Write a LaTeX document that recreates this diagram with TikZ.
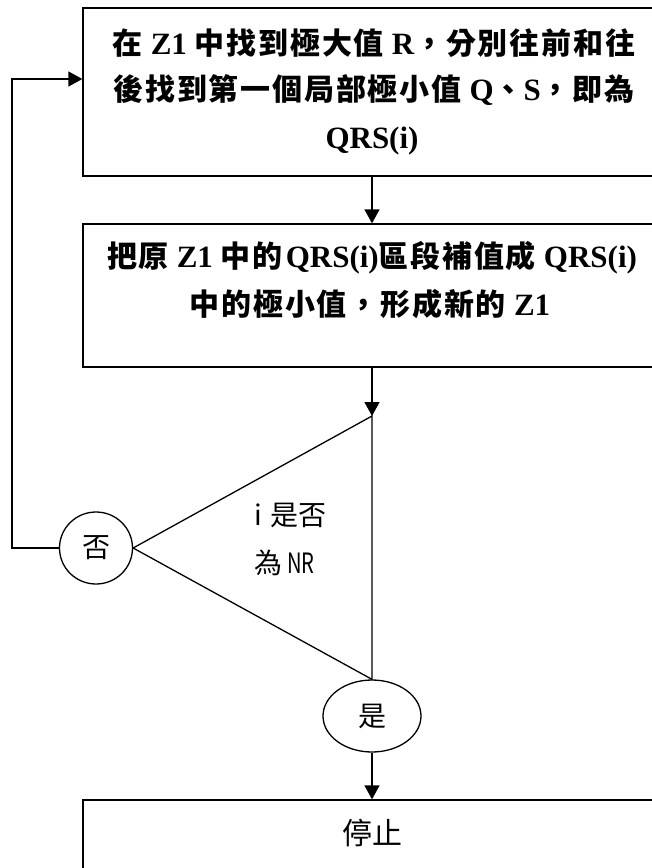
\documentclass[tikz,border=0pt]{standalone}
\usepackage{fontspec}
\setmainfont{Liberation Serif}
\newfontfamily\cjk{Noto Sans CJK TC}
\newfontfamily\cjksp{Noto Sans CJK TC}[LetterSpace=6]
\usetikzlibrary{arrows.meta,shapes.geometric}
\newcommand\Cb[1]{{\cjksp\bfseries\fontsize{30}{30}\selectfont #1}}
\newcommand\Lb[1]{{\rmfamily\bfseries\fontsize{31}{31}\selectfont #1}}
\newcommand\Cr[1]{{\cjk\fontsize{28}{28}\selectfont #1}}
\newcommand\mygap{\hspace{8pt}}
\begin{document}
\begin{tikzpicture}[x=1pt,y=-1pt,
  line/.style={draw=black,line width=1.3pt},
  box/.style={line,rectangle,inner sep=0pt,minimum width=578pt},
  arr/.style={line,-{Triangle[length=14pt,width=15pt]}},
  txt/.style={inner sep=0pt,anchor=center},
  bub/.style={line,ellipse,inner sep=0pt}]
\useasboundingbox (0,0) rectangle (652,868);
\clip (0,0) rectangle (652,868);
\fill[white] (0,0) rectangle (652,868);
% boxes
\node[box,minimum height=168pt] (b1) at (372,92) {};
\node[box,minimum height=143pt] (b2) at (372,295.5) {};
\node[box,minimum height=100pt] (stop) at (372,850) {};
% box 1 text
\node[txt] (t1a) at (374,43) {\Cb{在}\mygap\Lb{Z1}\mygap\Cb{中找到極大值}\mygap\Lb{R}\Cb{，分別往前和往}};
\node[txt] (t1b) at (374,90) {\Cb{後找到第一個局部極小值}\mygap\Lb{Q}\Cb{、}\Lb{S}\Cb{，即為}};
\node[txt] (t1c) at (372,141) {\Lb{QRS(i)}};
% box 2 text
\node[txt] (t2a) at (372,258) {\Cb{把原}\mygap\Lb{Z1}\mygap\Cb{中的}\hspace{3pt}\Lb{QRS(i)}\Cb{區段補值成}\mygap\Lb{QRS(i)}};
\node[txt] (t2b) at (370,304) {\Cb{中的極小值，形成新的}\mygap\Lb{Z1}};
% stop text
\node[txt] (t3) at (372,833) {{\cjk\fontsize{30}{30}\selectfont 停止}};
% decision
\node[bub,minimum width=73pt,minimum height=72pt] (no) at (96,548) {\Cr{否}};
\node[bub,minimum width=98pt,minimum height=72pt] (yes) at (372,716) {\Cr{是}};
\coordinate (ta) at (372,416);
\draw[line] (ta) -- (no.east) -- (yes.north) -- cycle;
\node[txt,anchor=west] (q1) at (254,515) {\Cr{i\hspace{9pt}是否}};
\node[txt,anchor=west] (q2) at (254,563) {\Cr{為\hspace{5pt}\scalebox{0.72}[1]{NR}}};
% connectors
\draw[arr] (b1.south) -- (b2.north);
\draw[arr] (b2.south) -- (ta);
\draw[arr] (yes.south) -- (stop.north);
\coordinate (lp) at (12,548);
\coordinate (ent) at ([yshift=13pt]b1.west);
\draw[arr] (no.west) -- (lp) |- (ent);
\end{tikzpicture}
\end{document}
